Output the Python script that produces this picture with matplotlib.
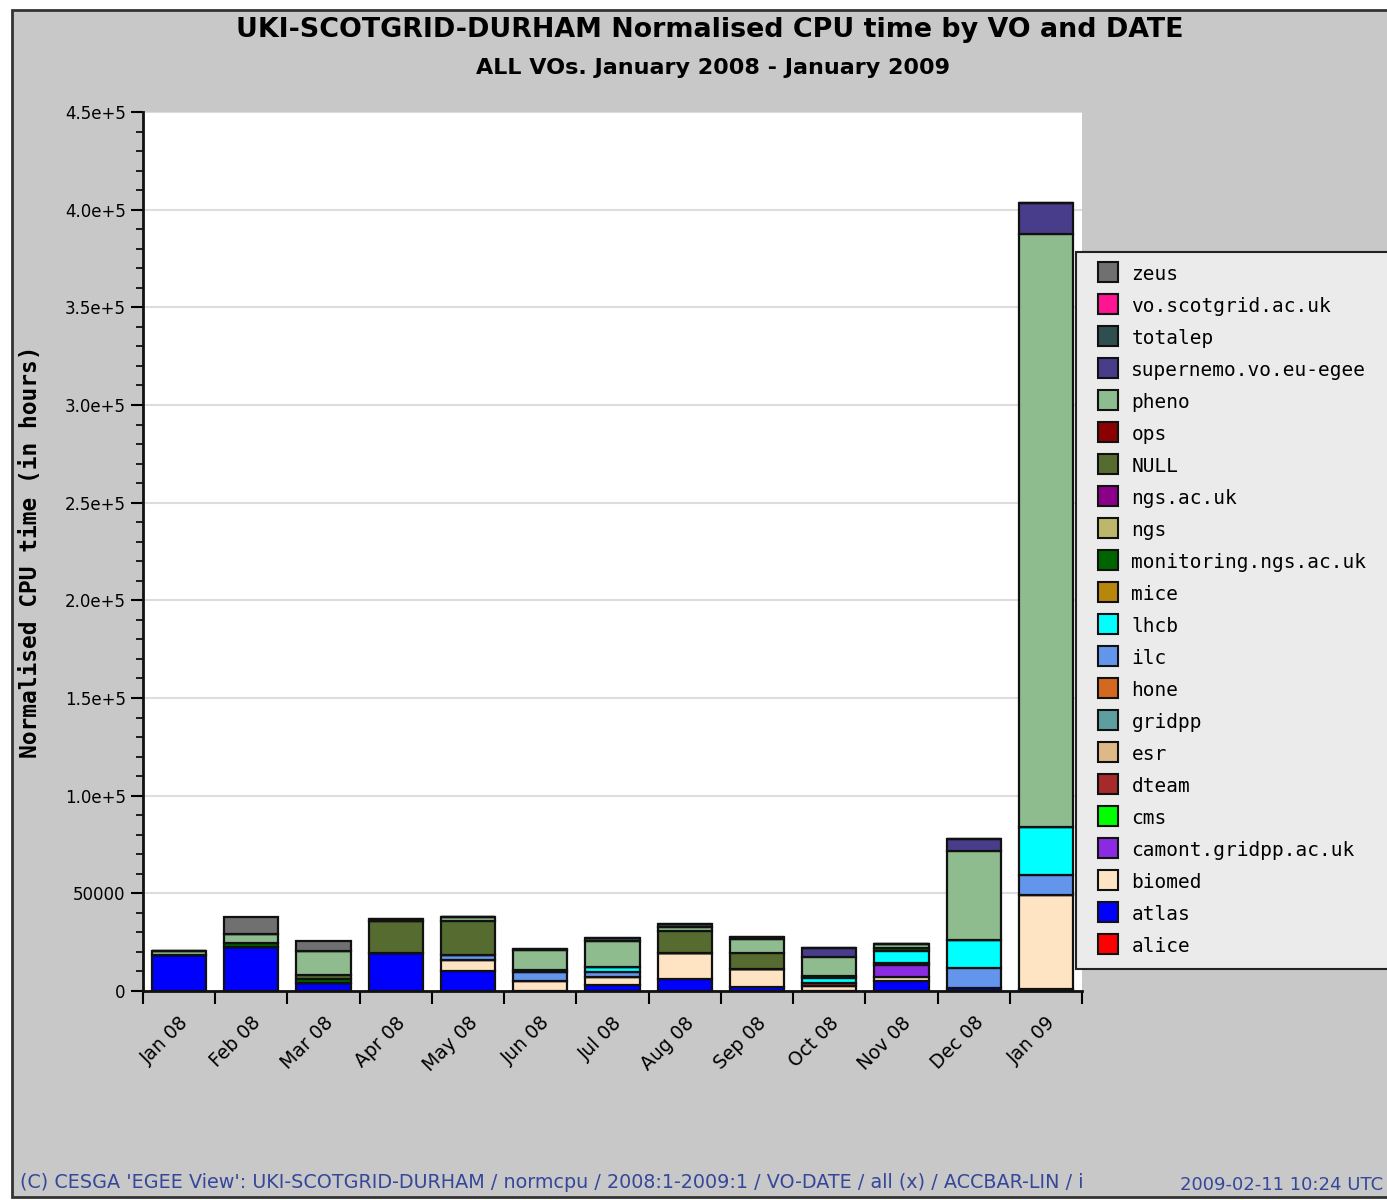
import matplotlib.pyplot as plt
import numpy as np
from matplotlib.lines import Line2D
from matplotlib.patches import Rectangle

months = ["Jan 08", "Feb 08", "Mar 08", "Apr 08", "May 08", "Jun 08", "Jul 08",
          "Aug 08", "Sep 08", "Oct 08", "Nov 08", "Dec 08", "Jan 09"]

# VOs in stacking order (bottom first) and their colours
vo_names = ["alice", "atlas", "biomed", "camont.gridpp.ac.uk", "cms", "dteam", "esr",
            "gridpp", "hone", "ilc", "lhcb", "mice", "monitoring.ngs.ac.uk", "ngs",
            "ngs.ac.uk", "NULL", "ops", "pheno", "supernemo.vo.eu-egee", "totalep",
            "vo.scotgrid.ac.uk", "zeus"]
vo_colors = ["#ff0000", "#0000ff", "#ffe4c4", "#8a2be2", "#00ff00", "#a52a2a", "#deb887",
             "#5f9ea0", "#d2691e", "#6495ed", "#00ffff", "#b8860b", "#006400", "#bdb76b",
             "#8b008b", "#556b2f", "#8b0000", "#8fbc8f", "#483d8b", "#2f4f4f",
             "#ff1493", "#707070"]

# normalised CPU hours per month
atlas      = [18400, 22600, 4200, 19500, 10400, 0, 2900, 6300, 2200, 0, 5100, 1500, 800]
biomed     = [0, 0, 0, 0, 5400, 5100, 4100, 12900, 9200, 2600, 2200, 0, 48200]
camont     = [0, 0, 0, 0, 0, 0, 0, 0, 0, 0, 6000, 0, 0]
dteam      = [0, 0, 0, 0, 0, 0, 0, 0, 0, 1300, 1100, 0, 0]
ilc        = [0, 0, 0, 0, 2400, 4800, 2900, 0, 0, 0, 0, 10200, 10200]
lhcb       = [0, 0, 0, 0, 0, 0, 2200, 0, 0, 2600, 6000, 14300, 24600]
monitoring = [0, 2000, 1800, 0, 0, 1100, 0, 0, 0, 1200, 1400, 0, 0]
null       = [0, 0, 2200, 16400, 17700, 0, 0, 11400, 8100, 0, 0, 0, 0]
pheno      = [2100, 4800, 12200, 0, 2000, 9800, 13600, 2200, 6900, 9500, 2500, 45700, 303800]
supernemo  = [0, 0, 0, 0, 0, 0, 0, 0, 0, 4600, 0, 6300, 15800]
totalep    = [0, 0, 0, 1200, 0, 900, 1200, 1400, 1300, 0, 0, 0, 0]
zeus       = [0, 8500, 5100, 0, 0, 0, 0, 0, 0, 0, 0, 0, 0]

series = {"atlas": atlas, "biomed": biomed, "camont.gridpp.ac.uk": camont,
          "dteam": dteam, "ilc": ilc, "lhcb": lhcb, "monitoring.ngs.ac.uk": monitoring,
          "NULL": null, "pheno": pheno, "supernemo.vo.eu-egee": supernemo,
          "totalep": totalep, "zeus": zeus}

yticks = [0, 50000, 100000, 150000, 200000, 250000, 300000, 350000, 400000, 450000]
ytick_labels = ["0", "50000", "1.0e+5", "1.5e+5", "2.0e+5", "2.5e+5", "3.0e+5",
                "3.5e+5", "4.0e+5", "4.5e+5"]

W, H = 1387, 1200
fig = plt.figure(figsize=(W / 100, H / 100), dpi=100, facecolor="white")
fig.patches.append(Rectangle((12 / W, 3 / H), 1.1, (1187) / H, transform=fig.transFigure,
                             facecolor="#c8c8c8", edgecolor="#333333", lw=2, zorder=-10))

ax = fig.add_axes([143 / W, 1 - 991 / H, (1082 - 143) / W, (991 - 112) / H])
ax.set_facecolor("white")

x = np.arange(len(months)) + 0.5
bottom = np.zeros(len(months))
for name, col in zip(vo_names, vo_colors):
    vals = np.array(series.get(name, [0] * len(months)), dtype=float)
    if vals.sum() == 0:
        continue
    ax.bar(x, vals, width=0.75, bottom=bottom, color=col, edgecolor="#111111",
           linewidth=1.6, zorder=3)
    bottom += vals

ax.set_xlim(0, len(months))
ax.set_ylim(0, 450000)
ax.set_yticks(yticks)
ax.set_yticklabels(ytick_labels, fontsize=12)
ax.set_yticks(np.arange(0, 450001, 10000), minor=True)
ax.set_xticks(np.arange(len(months) + 1))
ax.set_xticklabels([])
ax.set_xticks(x, minor=True)
ax.set_xticklabels(months, minor=True, rotation=45, ha="right", va="top",
                   rotation_mode="anchor", fontsize=13.5)
ax.tick_params(axis="x", which="major", length=9, width=1.5, direction="out")
ax.tick_params(axis="x", which="minor", length=0, pad=16)
ax.tick_params(axis="y", which="major", length=9, width=1.5, direction="out")
ax.tick_params(axis="y", which="minor", length=5, width=1.2, direction="out")
ax.grid(axis="y", which="major", color="#dddddd", linewidth=1.5, zorder=0)
ax.set_axisbelow(True)
for s in ["top", "right"]:
    ax.spines[s].set_visible(False)
for s in ["left", "bottom"]:
    ax.spines[s].set_linewidth(2)
    ax.spines[s].set_color("#111111")

ax.set_ylabel("Normalised CPU time (in hours)", family="DejaVu Sans Mono",
              fontweight="bold", fontsize=16.5)
ax.yaxis.set_label_coords((42 - 143) / (1082 - 143), 0.5)

fig.text(710 / W, 1 - 30 / H, "UKI-SCOTGRID-DURHAM Normalised CPU time by VO and DATE",
         ha="center", va="center", fontsize=19.4, fontweight="bold")
fig.text(713 / W, 1 - 68 / H, "ALL VOs. January 2008 - January 2009",
         ha="center", va="center", fontsize=16, fontweight="bold")

fig.text(20 / W, 1 - 1182 / H,
         "(C) CESGA 'EGEE View': UKI-SCOTGRID-DURHAM / normcpu / 2008:1-2009:1 / "
         "VO-DATE / all (x) / ACCBAR-LIN / i",
         ha="left", va="center", fontsize=13.8, color="#34479a")
fig.text(1180 / W, 1 - 1185 / H, "2009-02-11 10:24 UTC", ha="left", va="center",
         fontsize=13, color="#34479a")

handles = [Line2D([], [], linestyle="none", marker="s", markersize=15,
                  markerfacecolor=c, markeredgecolor="#111111", markeredgewidth=1.5)
           for c in vo_colors[::-1]]
leg = fig.legend(handles, vo_names[::-1], loc="upper left",
                 bbox_to_anchor=(1076 / W, 1 - 252 / H, 330 / W, 0), mode="expand",
                 prop={"family": "DejaVu Sans Mono", "size": 14},
                 handlelength=2.0, handleheight=1.0, handletextpad=0.2,
                 labelspacing=0.65, borderpad=0.65, borderaxespad=0, fancybox=False,
                 frameon=True)
leg.get_frame().set_facecolor("#ebebeb")
leg.get_frame().set_edgecolor("#222222")
leg.get_frame().set_linewidth(1.5)
leg.get_frame().set_alpha(1)

fig.savefig("out.png", dpi=100, facecolor=fig.get_facecolor())
